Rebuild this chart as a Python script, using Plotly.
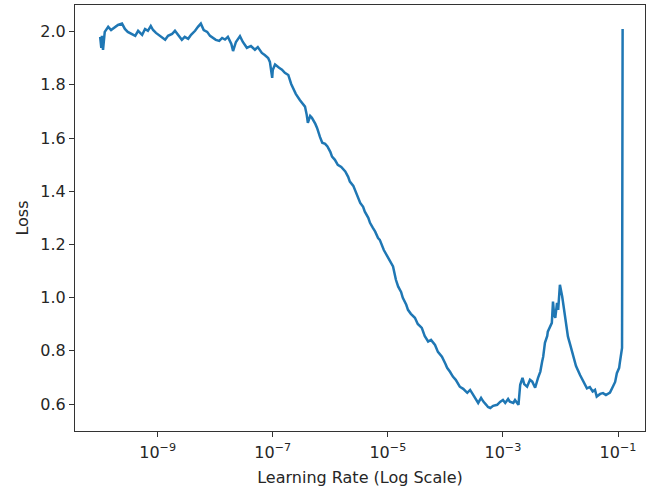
import plotly.graph_objects as go

# log10(learning rate) and loss
log_lr = [
    -10.00, -9.98, -9.97, -9.95, -9.92, -9.86, -9.81, -9.74, -9.69, -9.62,
    -9.57, -9.52, -9.46, -9.39, -9.34, -9.27, -9.22, -9.17, -9.12, -9.08,
    -9.03, -8.99, -8.94, -8.87, -8.82, -8.75, -8.70, -8.66, -8.61, -8.58,
    -8.53, -8.47, -8.42, -8.35, -8.30, -8.25, -8.20, -8.14, -8.09, -8.04,
    -7.99, -7.93, -7.88, -7.83, -7.78, -7.72, -7.69, -7.64, -7.57, -7.52,
    -7.45, -7.38, -7.31, -7.26, -7.19, -7.14, -7.08, -7.05, -7.01, -7.00,
    -6.96, -6.89, -6.84, -6.79, -6.73, -6.68, -6.65, -6.60, -6.53, -6.47,
    -6.44, -6.41, -6.39, -6.35, -6.32, -6.26, -6.23, -6.18, -6.14, -6.09,
    -6.05, -6.00, -5.97, -5.92, -5.87, -5.81, -5.74, -5.69, -5.66, -5.60,
    -5.57, -5.52, -5.48, -5.43, -5.40, -5.34, -5.31, -5.26, -5.22, -5.17,
    -5.14, -5.07, -5.01, -4.96, -4.91, -4.86, -4.82, -4.77, -4.74, -4.68,
    -4.65, -4.60, -4.53, -4.48, -4.41, -4.36, -4.30, -4.25, -4.18, -4.13,
    -4.06, -4.00, -3.97, -3.92, -3.87, -3.82, -3.75, -3.69, -3.62, -3.57,
    -3.52, -3.47, -3.43, -3.38, -3.34, -3.29, -3.26, -3.22, -3.17, -3.10,
    -3.05, -3.00, -2.96, -2.91, -2.88, -2.82, -2.79, -2.73, -2.70, -2.66,
    -2.63, -2.58, -2.53, -2.49, -2.44, -2.39, -2.35, -2.32, -2.30, -2.27,
    -2.23, -2.22, -2.18, -2.15, -2.13, -2.11, -2.09, -2.06, -2.04, -2.01,
    -1.97, -1.95, -1.92, -1.87, -1.83, -1.78, -1.73, -1.66, -1.61, -1.54,
    -1.49, -1.44, -1.40, -1.37, -1.31, -1.26, -1.21, -1.14, -1.09, -1.05,
    -1.02, -0.98, -0.97, -0.95, -0.93, -0.92,
]
loss = [
    1.980, 1.939, 1.984, 1.931, 1.999, 2.018, 2.006, 2.018, 2.025, 2.030,
    2.010, 1.999, 1.991, 1.984, 2.003, 1.988, 2.010, 2.003, 2.021, 2.006,
    1.995, 1.988, 1.980, 1.969, 1.984, 1.991, 2.003, 1.991, 1.976, 1.969,
    1.980, 1.973, 1.988, 2.003, 2.018, 2.030, 2.006, 1.999, 1.984, 1.976,
    1.969, 1.965, 1.976, 1.970, 1.980, 1.954, 1.927, 1.961, 1.983, 1.961,
    1.939, 1.946, 1.932, 1.942, 1.920, 1.912, 1.901, 1.886, 1.826, 1.856,
    1.876, 1.864, 1.857, 1.845, 1.837, 1.803, 1.788, 1.766, 1.743, 1.728,
    1.718, 1.687, 1.657, 1.683, 1.676, 1.653, 1.638, 1.604, 1.582, 1.578,
    1.568, 1.548, 1.530, 1.518, 1.499, 1.491, 1.474, 1.454, 1.436, 1.420,
    1.405, 1.379, 1.356, 1.341, 1.323, 1.300, 1.281, 1.262, 1.248, 1.224,
    1.217, 1.179, 1.155, 1.134, 1.117, 1.067, 1.041, 1.021, 0.999, 0.973,
    0.954, 0.939, 0.924, 0.901, 0.886, 0.856, 0.835, 0.841, 0.822, 0.796,
    0.778, 0.751, 0.736, 0.721, 0.703, 0.691, 0.665, 0.657, 0.642, 0.653,
    0.634, 0.615, 0.604, 0.623, 0.609, 0.597, 0.589, 0.585, 0.593, 0.597,
    0.608, 0.615, 0.604, 0.619, 0.609, 0.604, 0.615, 0.597, 0.672, 0.698,
    0.675, 0.665, 0.691, 0.684, 0.661, 0.698, 0.722, 0.758, 0.778, 0.830,
    0.856, 0.872, 0.894, 0.905, 0.985, 0.935, 0.924, 0.980, 0.954, 1.048,
    1.004, 0.973, 0.929, 0.853, 0.822, 0.778, 0.743, 0.709, 0.687, 0.659,
    0.664, 0.647, 0.653, 0.628, 0.638, 0.641, 0.634, 0.643, 0.665, 0.683,
    0.716, 0.736, 0.753, 0.785, 0.811, 2.010,
]

x_tick_vals = [1e-9, 1e-7, 1e-5, 1e-3, 1e-1]
x_tick_text = ["10<sup>−9</sup>", "10<sup>−7</sup>", "10<sup>−5</sup>",
               "10<sup>−3</sup>", "10<sup>−1</sup>"]
y_tick_vals = [0.6, 0.8, 1.0, 1.2, 1.4, 1.6, 1.8, 2.0]
y_tick_text = ["0.6", "0.8", "1.0", "1.2", "1.4", "1.6", "1.8", "2.0"]

lr = [10 ** v for v in log_lr]

fig = go.Figure()
fig.add_trace(go.Scatter(
    x=lr, y=loss, mode="lines",
    line=dict(color="#1f77b4", width=2.5),
    showlegend=False, hoverinfo="skip",
))

font = dict(family="DejaVu Sans", size=16, color="#262626")
fig.update_layout(
    width=656, height=490,
    margin=dict(l=75, r=11, t=5, b=59),
    paper_bgcolor="white", plot_bgcolor="white",
    font=font,
    xaxis=dict(
        type="log", range=[-10.437, -0.531],
        tickvals=x_tick_vals, ticktext=x_tick_text,
        ticks="outside", ticklen=5, tickwidth=1, tickcolor="#333",
        ticklabelstandoff=2,
        showgrid=False, zeroline=False,
        showline=True, mirror=True, linecolor="#333", linewidth=1,
        title=dict(text="Learning Rate (Log Scale)", standoff=10, font=font),
        automargin=False,
    ),
    yaxis=dict(
        range=[0.4985, 2.100],
        tickvals=y_tick_vals, ticktext=y_tick_text,
        ticks="outside", ticklen=5, tickwidth=1, tickcolor="#333",
        showgrid=False, zeroline=False,
        showline=True, mirror=True, linecolor="#333", linewidth=1,
        title=dict(text="Loss", standoff=7, font=font),
        automargin=False,
    ),
)

fig.write_html("out.html", config={"displayModeBar": False},
               post_script="document.body.style.margin='0';")
